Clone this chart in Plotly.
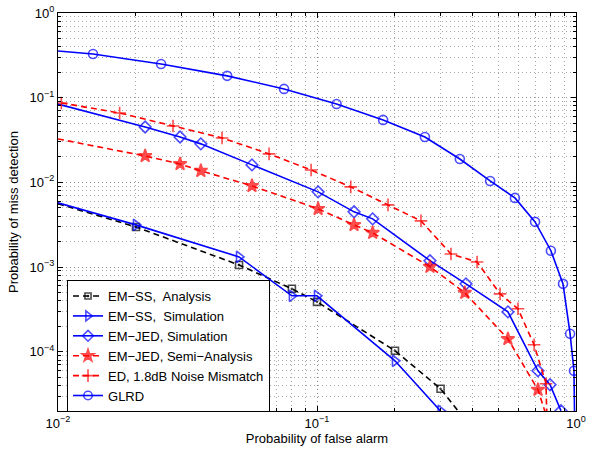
import plotly.graph_objects as go

# ---------------- data ----------------
# EM-SS, Analysis (black dashed, squares); first point is the left-edge entry (no marker)
emss_ana_x = [0.01, 0.02, 0.05, 0.08, 0.1, 0.2, 0.3, 0.4]
emss_ana_y = [0.0056, 0.00298, 0.00106, 0.000554, 0.000389, 0.000103, 3.66e-5, 1.2e-5]

# EM-SS, Simulation (blue, right triangles)
emss_sim_x = [0.01, 0.02, 0.05, 0.08, 0.1, 0.2, 0.3]
emss_sim_y = [0.00573, 0.00315, 0.00132, 0.000458, 0.000458, 7.83e-5, 2.0e-5]

# EM-JED, Simulation (blue, diamonds)
emjed_sim_x = [0.01, 0.0217, 0.0296, 0.0356, 0.0561, 0.101, 0.139, 0.164, 0.273, 0.376, 0.546, 0.713, 0.794, 0.875]
emjed_sim_y = [0.084, 0.0452, 0.0344, 0.0285, 0.0161, 0.00773, 0.00449, 0.00371, 0.00119, 0.000634, 0.000296, 5.97e-5, 4.08e-5, 2.01e-5]

# EM-JED, Semi-Analysis (red dashed, stars)
emjed_semi_x = [0.01, 0.0217, 0.0296, 0.0356, 0.0561, 0.101, 0.139, 0.164, 0.273, 0.372, 0.546, 0.713, 0.80]
emjed_semi_y = [0.0326, 0.0205, 0.0165, 0.0137, 0.0091, 0.00487, 0.00315, 0.00254, 0.00101, 0.000497, 0.000142, 3.56e-5, 1.2e-5]

# ED, 1.8dB Noise Mismatch (red dashed, plus)
ed_x = [0.0103, 0.0173, 0.0278, 0.043, 0.0653, 0.0949, 0.135, 0.188, 0.252, 0.329, 0.415, 0.509, 0.597, 0.689, 0.766, 0.775]
ed_y = [0.0867, 0.066, 0.0464, 0.0335, 0.0217, 0.014, 0.00885, 0.00543, 0.00351, 0.00143, 0.00115, 0.000483, 0.000322, 0.000121, 4.19e-5, 1.0e-5]

# GLRD (blue, circles)
glrd_x = [0.01, 0.01365, 0.025, 0.045, 0.0746, 0.119, 0.18, 0.261, 0.356, 0.466, 0.581, 0.695, 0.80, 0.891, 0.949, 0.982, 1.0]
glrd_y = [0.356, 0.328, 0.25, 0.181, 0.127, 0.0844, 0.0547, 0.0344, 0.0189, 0.0104, 0.00656, 0.00342, 0.00156, 0.000634, 0.000163, 5.97e-5, 1.0e-6]

# which points carry no marker (left-edge / clipped continuation points)
emss_ana_nomark = [0]
emss_sim_nomark = [0]
emjed_sim_nomark = [0]
emjed_semi_nomark = [0]
ed_nomark = []
glrd_nomark = [0]

series_names = ["EM\u2212SS,  Analysis", "EM\u2212SS,  Simulation", "EM\u2212JED, Simulation",
                "EM\u2212JED, Semi\u2212Analysis", "ED, 1.8dB Noise Mismatch", "GLRD"]

x_tickvals = [0.01, 0.1, 1]
x_ticktext = ["10<sup>\u22122</sup>", "10<sup>\u22121</sup>", "10<sup>0</sup>"]
y_tickvals = [1e-4, 1e-3, 1e-2, 1e-1, 1]
y_ticktext = ["10<sup>\u22124</sup>", "10<sup>\u22123</sup>", "10<sup>\u22122</sup>", "10<sup>\u22121</sup>", "10<sup>0</sup>"]

# ---------------- figure ----------------
BLUE = "rgb(0,0,255)"
RED = "rgb(255,0,0)"
BLACK = "rgb(0,0,0)"
DASH = "6px,4px"


def sizes(n, nomark, s):
    return [0 if i in nomark else s for i in range(n)]


fig = go.Figure()

specs = [
    (emss_ana_x, emss_ana_y, emss_ana_nomark, BLACK, DASH, "square-open-dot", 7, BLACK),
    (emss_sim_x, emss_sim_y, emss_sim_nomark, BLUE, "solid", "triangle-right-open", 10, BLUE),
    (emjed_sim_x, emjed_sim_y, emjed_sim_nomark, BLUE, "solid", "diamond-open", 9, BLUE),
    (emjed_semi_x, emjed_semi_y, emjed_semi_nomark, RED, DASH, "star", 10, RED),
    (ed_x, ed_y, ed_nomark, RED, DASH, "cross-thin-open", 9, RED),
    (glrd_x, glrd_y, glrd_nomark, BLUE, "solid", "circle-open", 9, BLUE),
]

for name, (xs, ys, nm, col, dash, sym, ms, mcol) in zip(series_names, specs):
    fig.add_trace(go.Scatter(
        x=xs, y=ys, name=name, mode="lines+markers",
        line=dict(color=col, width=1.6, dash=dash),
        marker=dict(symbol=sym, size=sizes(len(xs), nm, ms), color=mcol,
                    line=dict(color=mcol, width=1.6)),
    ))

FONT = "Liberation Sans, Arial, Helvetica, sans-serif"
axis_common = dict(
    type="log", automargin=False, ticklabeloverflow="allow",
    showline=True, linecolor="black", linewidth=1, mirror="allticks",
    ticks="inside", ticklen=5, tickcolor="black", tickwidth=1,
    showgrid=True, gridcolor="#8c8c8c", griddash="1px,3px", gridwidth=1,
    minor=dict(ticks="inside", ticklen=3, tickcolor="black", showgrid=True,
               gridcolor="#a8a8a8", griddash="1px,3px", gridwidth=1, dtick="D1"),
    zeroline=False,
    tickfont=dict(family=FONT, size=13, color="black"),
    title_font=dict(family=FONT, size=13, color="black"),
)

fig.update_xaxes(**axis_common, range=[-2, 0], tickvals=x_tickvals, ticktext=x_ticktext,
                 title_text="Probability of false alarm", title_standoff=4)
fig.update_yaxes(**axis_common, range=[-4.699, 0], tickvals=y_tickvals, ticktext=y_ticktext,
                 title_text="Probability of miss detection", title_standoff=8)

fig.update_layout(
    width=590, height=449,
    margin=dict(l=58, r=14, t=13, b=38, autoexpand=False),
    plot_bgcolor="white", paper_bgcolor="white",
    font=dict(family=FONT, color="black"),
    legend=dict(x=0.0174, y=0.329, xanchor="left", yanchor="top",
                bgcolor="white", bordercolor="black", borderwidth=1,
                font=dict(family=FONT, size=13, color="black"),
                itemwidth=30, tracegroupgap=0),
    showlegend=True,
)

# remove the default page margin so the figure sits at the window's top-left corner
fig.write_html("out.html", config={"displayModeBar": False},
               post_script="document.body.style.margin='0px';")
